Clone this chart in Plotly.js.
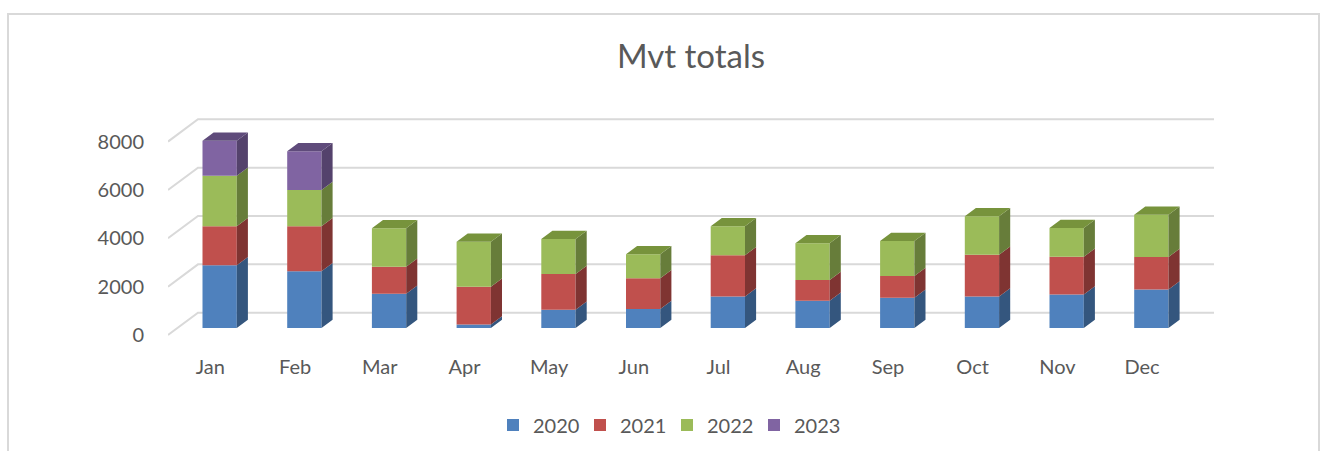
<!DOCTYPE html>
<html><head><meta charset="utf-8">
<script src="https://cdn.plot.ly/plotly-3.0.1.min.js"></script>
<style>
html,body{margin:0;padding:0;background:#fff}
#chart{width:1320px;height:451px;position:absolute;left:0;top:0}
#frame{position:absolute;left:7px;top:13px;width:1313px;height:460px;border:2px solid #D9D9D9;box-sizing:border-box;pointer-events:none}
</style>
</head><body>
<div id="chart"></div><div id="frame"></div>
<script>
// ---- data ----
const months = ['Jan','Feb','Mar','Apr','May','Jun','Jul','Aug','Sep','Oct','Nov','Dec'];
const years = ['2020','2021','2022','2023'];
const v2020 = [2600, 2350, 1420, 150, 760, 790, 1310, 1130, 1260, 1310, 1390, 1600];
const v2021 = [1610, 1860, 1120, 1560, 1480, 1270, 1700, 860, 890, 1720, 1560, 1340];
const v2022 = [2090, 1500, 1590, 1860, 1450, 990, 1200, 1520, 1450, 1600, 1190, 1750];
const v2023 = [1450, 1600, null, null, null, null, null, null, null, null, null, null];
const yTicks = [0, 2000, 4000, 6000, 8000];

// ---- styling ----
const frontColors = ['#4F81BD', '#C0504D', '#9BBB59', '#8064A2'];
const sideColors  = ['#34567E', '#7F3432', '#677D3A', '#54426C'];
const topColors   = ['#3F6797', '#9A403E', '#77933C', '#5F4B7B'];
const textColor = '#595959';
const gridColor = '#D9D9D9';
const FONT = 'Lato, "Open Sans", sans-serif';

// geometry (pixels)
const L = 168, R = 1214, T = 100, B = 340, W = 1320, H = 451;
const CW = 84.7;            // px per category
const K = 0.024175;         // px per value unit
const ZERO_PX = 335;        // pixel y of value 0 at front plane
const DEPTH_PX = [30, 22.3];// full floor depth offset (dx, -dy)
const FRONT_F = 0.31, BAR_F = 0.37, BAR_W = 34.3;

const xMin = -0.5, xMax = -0.5 + (R - L) / CW;
const yMin = -(B - ZERO_PX) / K, yMax = (ZERO_PX - T) / K;
const DX = DEPTH_PX[0] / CW, DY = DEPTH_PX[1] / K;
const FX = FRONT_F * DX, FY = FRONT_F * DY;
const BX = BAR_F * DX, BY = BAR_F * DY;
const BW = BAR_W / CW;

const series = [v2020, v2021, v2022, v2023];
// cumulative bases
const bases = [];
let run = months.map(() => 0);
series.forEach(s => {
  bases.push(run.slice());
  run = run.map((r, i) => r + (s[i] || 0));
});

const data = [];
// side & top faces
series.forEach((s, si) => {
  const sx = [], sy = [], tx = [], ty = [];
  s.forEach((val, i) => {
    if (!val) return;
    const b = bases[si][i], t = b + val;
    const xr = i + FX + BW / 2, xl = i + FX - BW / 2;
    const y0 = FY + b, y1 = FY + t;
    sx.push(xr, xr + BX, xr + BX, xr, xr, null);
    sy.push(y0, y0 + BY, y1 + BY, y1, y0, null);
    const isTop = series.slice(si + 1).every(o => !o[i]);
    if (isTop) {
      tx.push(xl, xr, xr + BX, xl + BX, xl, null);
      ty.push(y1, y1, y1 + BY, y1 + BY, y1, null);
    }
  });
  data.push({type:'scatter', mode:'none', x:sx, y:sy, fill:'toself', fillcolor:sideColors[si],
             showlegend:false, hoverinfo:'skip'});
  if (tx.length) data.push({type:'scatter', mode:'none', x:tx, y:ty, fill:'toself', fillcolor:topColors[si],
             showlegend:false, hoverinfo:'skip'});
});
// front faces
series.forEach((s, si) => {
  data.push({
    type:'bar', name:years[si],
    x: months.map((m, i) => i + FX),
    y: s,
    base: bases[si].map(b => b + FY),
    width: BW,
    marker:{color:frontColors[si], line:{width:0}},
    hoverinfo:'skip'
  });
});

// gridlines on back wall + side wall
const shapes = yTicks.map(v => ({
  type:'path', xref:'x', yref:'y', layer:'below',
  path:`M ${xMin} ${v} L ${xMin + DX} ${v + DY} L ${xMax} ${v + DY}`,
  line:{color:gridColor, width:2}
}));

const layout = {
  width:W, height:H,
  margin:{l:L, r:W - R, t:T, b:H - B, pad:0},
  paper_bgcolor:'#fff', plot_bgcolor:'rgba(0,0,0,0)',
  font:{family:FONT, color:textColor, size:20},
  barmode:'overlay',
  title:{text:'Mvt totals', font:{family:FONT, size:33, color:textColor},
         x:0.5, xref:'paper', xanchor:'center', y:1 - 56/H, yref:'container', yanchor:'middle'},
  xaxis:{range:[xMin, xMax], tickvals:months.map((m, i) => i), ticktext:months,
         showgrid:false, zeroline:false, showline:false, ticks:'outside', ticklen:9,
         tickcolor:'rgba(0,0,0,0)', tickfont:{size:20, color:textColor}, fixedrange:true},
  yaxis:{range:[yMin, yMax], tickvals:yTicks, ticktext:yTicks.map(String),
         showgrid:false, zeroline:false, showline:false, ticks:'outside', ticklen:19,
         tickcolor:'rgba(0,0,0,0)', tickfont:{size:20, color:textColor}, fixedrange:true},
  shapes:shapes,
  showlegend:true,
  legend:{orientation:'h', xref:'container', x:667/W, xanchor:'center',
          yref:'container', y:1 - 425/H, yanchor:'middle', traceorder:'normal',
          font:{size:20, color:textColor}, itemwidth:30, entrywidth:42, bgcolor:'rgba(0,0,0,0)'}
};

Plotly.newPlot('chart', data, layout, {displayModeBar:false, staticPlot:true});
</script>
</body></html>
